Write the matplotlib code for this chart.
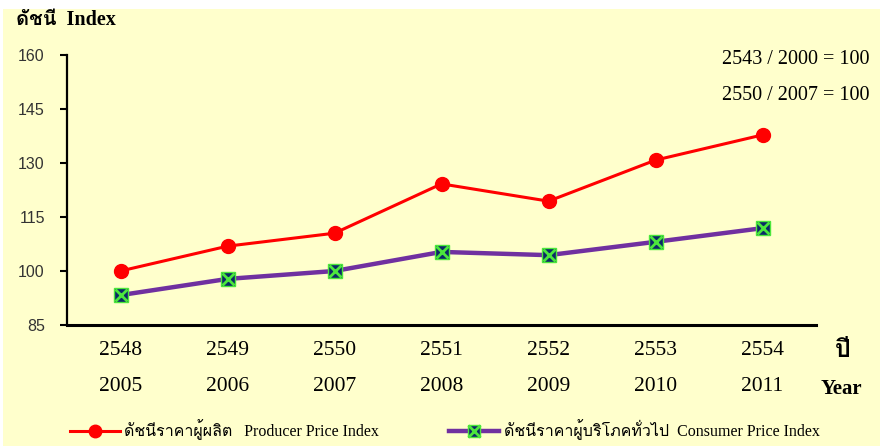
import matplotlib
matplotlib.use('Agg')
import matplotlib.pyplot as plt
from matplotlib import font_manager
from matplotlib.ft2font import FT2Font
from matplotlib.lines import Line2D
from matplotlib.patches import Rectangle
import matplotlib.transforms as mtransforms

# data
years_be = ['2548', '2549', '2550', '2551', '2552', '2553', '2554']
years_ad = ['2005', '2006', '2007', '2008', '2009', '2010', '2011']
ppi = [100.0, 106.9, 110.5, 124.2, 119.4, 130.8, 137.8]
cpi = [93.3, 97.8, 100.0, 105.3, 104.4, 108.1, 111.9]
y_ticks = [85, 100, 115, 130, 145, 160]

# find some installed font that can draw Thai
thai_font = None
for f in font_manager.fontManager.ttflist:
    try:
        if 0x0E14 in FT2Font(f.fname).get_charmap():
            thai_font = f.name
            break
    except Exception:
        pass

serif = ['Liberation Serif']
if thai_font:
    serif.append(thai_font)
serif.append('DejaVu Sans')

bg = '#FFFFCC'
fig = plt.figure(figsize=(8.84, 4.48), dpi=100, facecolor='white')
fig.patches.append(Rectangle((3 / 884, 2 / 448), 877 / 884, 437 / 448,
                             transform=fig.transFigure, facecolor=bg,
                             edgecolor='none', zorder=-10))

ax = fig.add_axes([67 / 884, 1 - 325 / 448, 749 / 884, 270 / 448])
ax.set_facecolor('none')
x = list(range(len(years_be)))

ax.plot(x, ppi, color='#FF0000', lw=2.2, marker='o', ms=10,
        mfc='#FF0000', mec='#FF0000', zorder=3)
ax.plot(x, cpi, color='#7030A0', lw=3.2, zorder=3)
ax.plot(x, cpi, ls='none', marker='s', ms=10, mfc='#0B2A66',
        mec='#4CE63C', mew=1, zorder=4)
ax.plot(x, cpi, ls='none', marker='x', ms=9, mec='#4CE63C', mew=2,
        zorder=5)

ax.set_xlim(-0.5, len(x) - 0.5)
ax.set_ylim(85, 160)
ax.set_yticks(y_ticks)
ax.set_yticklabels([str(v) for v in y_ticks], family='Liberation Sans',
                   fontsize=11.5, color='#333333')
ax.tick_params(axis='y', length=5, width=1.5, pad=11, color='black')
ax.set_xticks([])
for s in ['top', 'right']:
    ax.spines[s].set_visible(False)
ax.spines['left'].set_linewidth(1.6)
ax.spines['bottom'].set_linewidth(2.2)

trans = mtransforms.blended_transform_factory(ax.transData, ax.transAxes)
for i in x:
    ax.text(i, -0.093, years_be[i], transform=trans, ha='center',
            va='center', family=serif, fontsize=15.5)
    ax.text(i, -0.227, years_ad[i], transform=trans, ha='center',
            va='center', family=serif, fontsize=15.5)

fig.text(16 / 884, 1 - 20 / 448, 'ดัชนี  Index', family=serif,
         fontsize=14.5, fontweight='bold', va='center', ha='left')
fig.text(870 / 884, 1 - 59 / 448, '2543 / 2000 = 100', family=serif,
         fontsize=14.5, va='center', ha='right')
fig.text(870 / 884, 1 - 96 / 448, '2550 / 2007 = 100', family=serif,
         fontsize=14.5, va='center', ha='right')
fig.text(843 / 884, 1 - 350 / 448, 'ปี', family=serif, fontsize=18,
         fontweight='bold', va='center', ha='center')
fig.text(841 / 884, 1 - 389 / 448, 'Year', family=serif, fontsize=15,
         fontweight='bold', va='center', ha='center')

handles = [
    Line2D([], [], color='#FF0000', lw=2.2, marker='o', ms=9,
           mfc='#FF0000', mec='#FF0000'),
    (Line2D([], [], color='#7030A0', lw=3.2),
     Line2D([], [], ls='none', marker='s', ms=9, mfc='#0B2A66',
            mec='#4CE63C'),
     Line2D([], [], ls='none', marker='x', ms=8, mec='#4CE63C', mew=2)),
]
labels = ['ดัชนีราคาผู้ผลิต   Producer Price Index',
          'ดัชนีราคาผู้บริโภคทั่วไป  Consumer Price Index']
leg = fig.legend(handles, labels, loc='center left',
                 bbox_to_anchor=(70 / 884, 1 - 430 / 448), ncol=2,
                 frameon=False, borderpad=0, borderaxespad=0,
                 handlelength=3.1, handletextpad=0.3,
                 columnspacing=4.4, prop={'family': serif, 'size': 11.5})

fig.savefig('out.png', dpi=100, facecolor='white')
